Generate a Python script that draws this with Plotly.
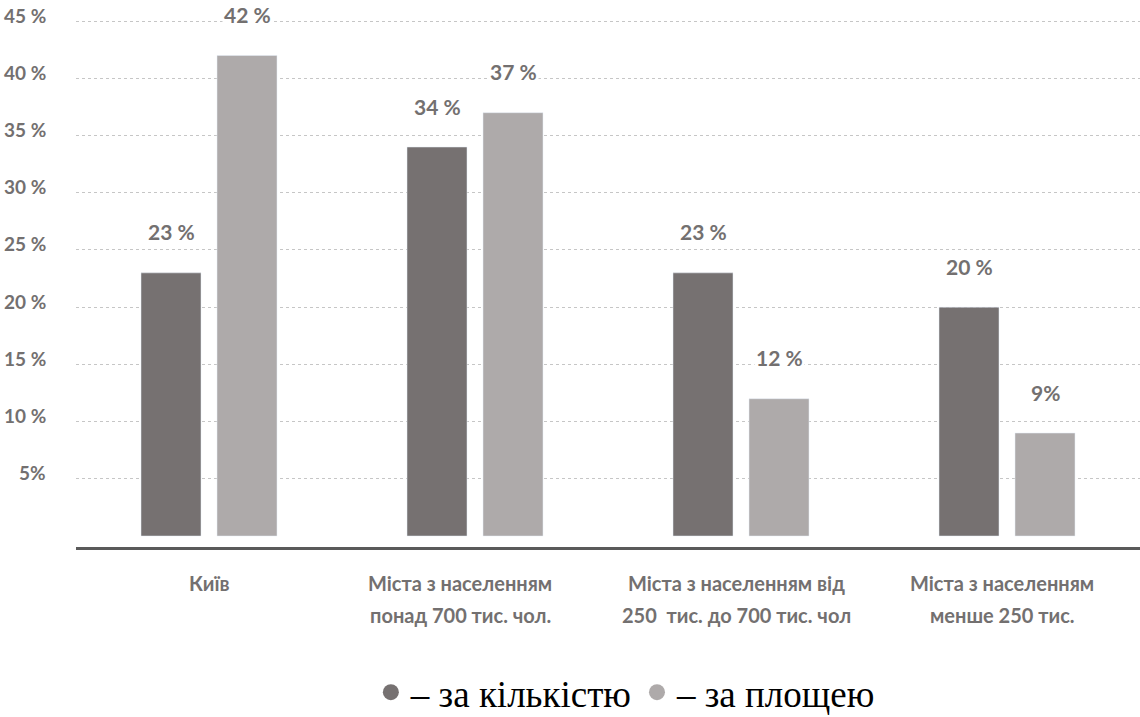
import plotly.graph_objects as go

categories = ["Київ", "Міста з населенням\nпонад 700 тис. чол.",
              "Міста з населенням від\n250  тис. до 700 тис. чол",
              "Міста з населенням\nменше 250 тис."]
by_count = [23, 34, 23, 20]
by_area = [42, 37, 12, 9]
count_labels = ["23 %", "34 %", "23 %", "20 %"]
area_labels = ["42 %", "37 %", "12 %", "9%"]
ytick_vals = [5, 10, 15, 20, 25, 30, 35, 40, 45]
ytick_text = ["5%", "10 %", "15 %", "20 %", "25 %", "30 %", "35 %", "40 %", "45 %"]
legend_names = ["– за кількістю", "– за площею"]

# style: small horizontal nudges of the category captions (px)
CAT_NUDGE = [0, -15, -5, -5]

DARK = "#767171"
LIGHT = "#AEAAAA"
TXT = "#737070"
FONT = "Lato"
BARGAP = 0.4286
BARGROUPGAP = 0.2105

xs = list(range(len(categories)))

fig = go.Figure()
fig.add_trace(go.Bar(x=xs, y=by_count, marker_color=DARK, showlegend=False))
fig.add_trace(go.Bar(x=xs, y=by_area, marker_color=LIGHT, showlegend=False))
# legend-only entries (circle symbols)
for name, col in zip(legend_names, [DARK, LIGHT]):
    fig.add_trace(go.Scatter(x=[None], y=[None], mode="markers", name=name,
                             marker=dict(symbol="circle", size=20, color=col),
                             showlegend=True))

off = (1 - BARGAP) / 4
ann = []
for i in xs:
    ann.append(dict(x=i - off, y=by_count[i], text=count_labels[i], showarrow=False,
                    yshift=41, bgcolor="white",
                    font=dict(family=FONT, size=21, color=TXT, weight="bold")))
    ann.append(dict(x=i + off, y=by_area[i], text=area_labels[i], showarrow=False,
                    yshift=41, bgcolor="white",
                    font=dict(family=FONT, size=21, color=TXT, weight="bold")))
    lines = categories[i].split("\n")
    for j, ln in enumerate(lines):
        ann.append(dict(x=i, y=0, yref="paper", text=ln, showarrow=False,
                        yanchor="middle", yshift=-36 - 32 * j, xshift=CAT_NUDGE[i],
                        font=dict(family=FONT, size=20, color=TXT, weight="bold")))

for v, t in zip(ytick_vals, ytick_text):
    ann.append(dict(x=0, xref="paper", y=v, text=t, showarrow=False,
                    xanchor="right", xshift=-28, yshift=6,
                    font=dict(family=FONT, size=19, color=TXT, weight="bold")))

fig.update_layout(
    width=1140, height=717,
    margin=dict(l=76, r=0, t=0, b=170),
    paper_bgcolor="white", plot_bgcolor="white",
    barmode="group", bargap=BARGAP, bargroupgap=BARGROUPGAP,
    showlegend=True,
    legend=dict(orientation="h", xref="container", yref="container",
                x=0.549, xanchor="center", y=0.034, yanchor="middle",
                font=dict(family="Liberation Serif", size=37, color="black"),
                itemsizing="trace", bgcolor="rgba(0,0,0,0)"),
    annotations=ann,
    xaxis=dict(range=[-0.5, 3.5], showticklabels=False, showgrid=False,
               zeroline=False, showline=True, linewidth=3, linecolor="#5a5a5a",
               ticks=""),
    yaxis=dict(range=[-0.96, 46.85], tickvals=ytick_vals, showticklabels=False,
               showgrid=True, gridcolor="#c6c6c6", gridwidth=1, griddash="dot",
               zeroline=False, showline=False, ticks=""),
)

fig.write_html("out.html")
